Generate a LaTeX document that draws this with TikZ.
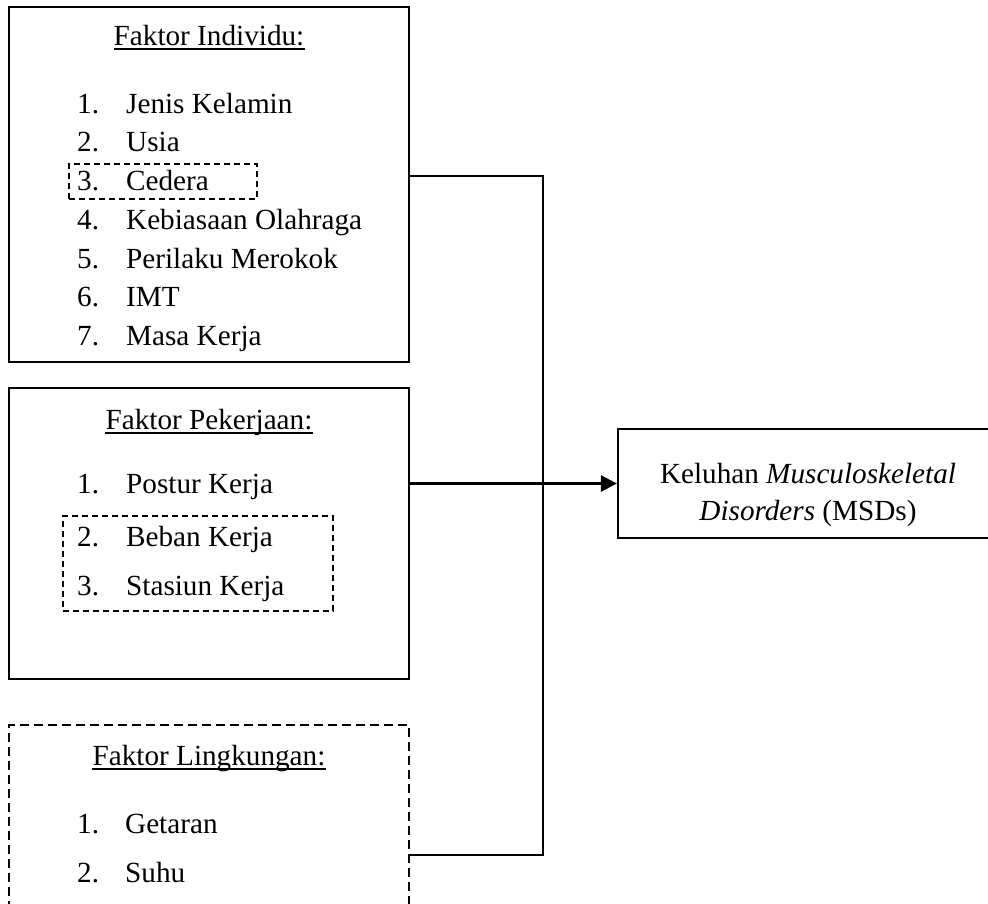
\documentclass[tikz,border=0pt]{standalone}
\usepackage{fontspec}
\setmainfont{Liberation Serif}
\usetikzlibrary{arrows.meta}
\begin{document}
\begin{tikzpicture}[x=1pt,y=-1pt,
  txt/.style={inner sep=0pt, anchor=base west, font=\fontsize{29.2}{35}\selectfont},
  ttl/.style={inner sep=0pt, anchor=base, font=\fontsize{29.2}{35}\selectfont},
  box/.style={draw, line width=2.2pt, inner sep=0pt, rectangle},
  dbox/.style={draw, line width=2.2pt, dash pattern=on 9pt off 5pt, inner sep=0pt, rectangle},
  sbox/.style={draw, line width=2pt, dash pattern=on 6pt off 4pt, inner sep=0pt, rectangle},
  conn/.style={line width=2.6pt},
  uline/.style={line width=1.8pt}]
\useasboundingbox (0,0) rectangle (988,903);

% main boxes
\node[box, minimum width=400pt, minimum height=355pt] (ind) at (209,184.5) {};
\node[box, minimum width=400pt, minimum height=291pt] (job) at (209,533.5) {};
\node[dbox, minimum width=400pt, minimum height=200pt] (env) at (209,825) {};
\node[box, minimum width=380pt, minimum height=109pt] (kel) at (808,483.5) {};

% inner dashed boxes
\node[sbox, minimum width=188pt, minimum height=35pt] (ced) at (163,181.5) {};
\node[sbox, minimum width=270pt, minimum height=95pt] (bsk) at (198,563.5) {};

% Faktor Individu
\node[ttl] (t1) at (209,45) {Faktor Individu:};
\draw[uline] ([yshift=-4pt]t1.base west) -- ([yshift=-4pt]t1.base east);
\node[txt] (n11) at (77,113) {1.};   \node[txt] (i11) at (126,113) {Jenis Kelamin};
\node[txt] (n12) at (77,151.5) {2.}; \node[txt] (i12) at (126,151.5) {Usia};
\node[txt] (n13) at (77,190) {3.};   \node[txt] (i13) at (126,190) {Cedera};
\node[txt] (n14) at (77,229) {4.};   \node[txt] (i14) at (126,229) {Kebiasaan Olahraga};
\node[txt] (n15) at (77,268) {5.};   \node[txt] (i15) at (126,268) {Perilaku Merokok};
\node[txt] (n16) at (77,306.5) {6.}; \node[txt] (i16) at (126,306.5) {IMT};
\node[txt] (n17) at (77,345) {7.};   \node[txt] (i17) at (126,345) {Masa Kerja};

% Faktor Pekerjaan
\node[ttl] (t2) at (209,429) {Faktor Pekerjaan:};
\draw[uline] ([yshift=-4pt]t2.base west) -- ([yshift=-4pt]t2.base east);
\node[txt] (n21) at (77,493) {1.}; \node[txt] (i21) at (126,493) {Postur Kerja};
\node[txt] (n22) at (77,546) {2.}; \node[txt] (i22) at (126,546) {Beban Kerja};
\node[txt] (n23) at (77,595) {3.}; \node[txt] (i23) at (126,595) {Stasiun Kerja};

% Faktor Lingkungan
\node[ttl] (t3) at (209,765) {Faktor Lingkungan:};
\draw[uline] ([yshift=-4pt]t3.base west) -- ([yshift=-4pt]t3.base east);
\node[txt] (n31) at (77,833) {1.}; \node[txt] (i31) at (125,833) {Getaran};
\node[txt] (n32) at (77,882) {2.}; \node[txt] (i32) at (125,882) {Suhu};

% Keluhan text
\node[ttl] (k1) at (808,483) {Keluhan \textit{Musculoskeletal}};
\node[ttl] (k2) at (808,520) {\textit{Disorders} (MSDs)};

% connectors
\coordinate (j) at (543,483);
\draw[conn] ([yshift=8.5pt]ind.east) -| (j);
\draw[conn] ([yshift=-30pt]env.east) -| (j);
\draw[conn, -{Triangle[length=16pt,width=16pt]}] (job.east |- kel.west) -- (kel.west);
\end{tikzpicture}
\end{document}
